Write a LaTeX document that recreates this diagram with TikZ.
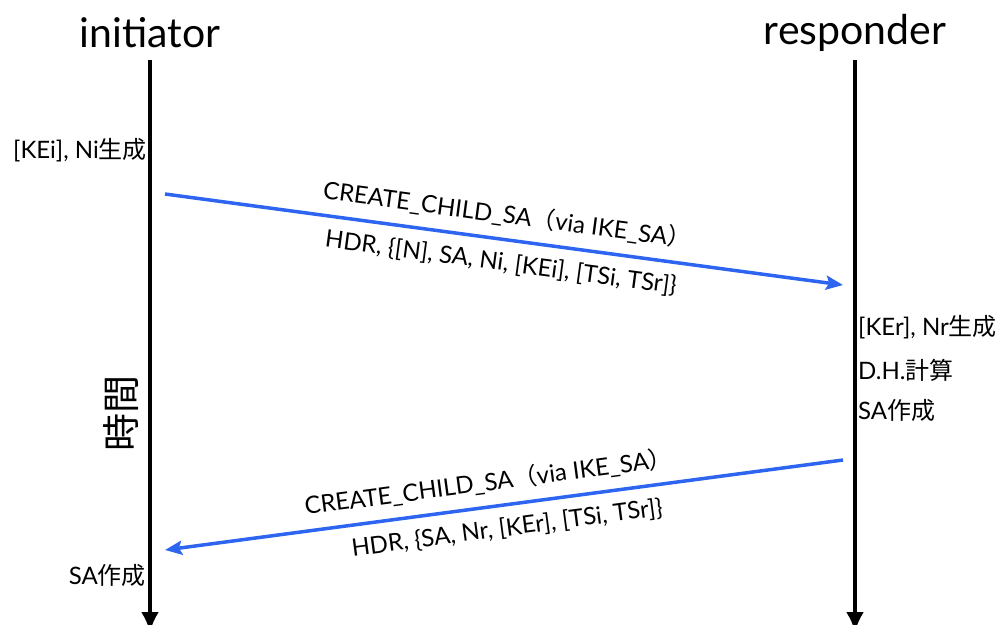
\documentclass[tikz,border=0pt]{standalone}
\usepackage{fontspec}
\setmainfont{Lato}
\newfontfamily\jp{Noto Sans CJK JP}
\usetikzlibrary{arrows.meta,positioning,calc}

\begin{document}
\begin{tikzpicture}[
    x=1pt, y=-1pt,
    party/.style={font=\fontsize{41}{48}\selectfont, inner sep=0pt},
    note/.style={font=\fontsize{24}{28}\selectfont, inner sep=0pt},
    msglabel/.style={font=\fontsize{24}{28}\selectfont, text=black, sloped, inner sep=0pt},
    lifeline/.style={draw, line width=3.5pt, -{Latex[length=20pt,width=18pt]}},
    msg/.style={draw, line width=3.5pt, color=msgblue, -{Stealth[length=17pt,width=14pt,inset=3pt]}}
]
    \definecolor{msgblue}{RGB}{45,100,240}
    \useasboundingbox (0,0) rectangle (1003,624);

    % Nodes
    \node[party] (init) at (150,33) {initiator};
    \node[party] (resp) at (855,33) {responder};
    \coordinate (itop) at (150,60);
    \coordinate (ibot) at (150,632);
    \coordinate (rtop) at (855,60);
    \coordinate (rbot) at (855,632);

    \node[note, anchor=east] (kei) at (147,150) {[KEi], Ni{\jp 生成}};
    \node[note, anchor=west] (ker) at (858,327) {[KEr], Nr{\jp 生成}};
    \node[note, anchor=west] (dh) at (858,370) {D.H.{\jp 計算}};
    \node[note, anchor=west] (rsa) at (858,410) {SA{\jp 作成}};
    \node[note, anchor=east] (isa) at (146,575) {SA{\jp 作成}};
    \node[font=\jp\fontsize{38}{44}\selectfont, rotate=90, inner sep=0pt] (time) at (121,413) {時間};

    \coordinate (req1) at (165,194);
    \coordinate (req2) at (843,285);
    \coordinate (res1) at (843,460);
    \coordinate (res2) at (165,550);

    % Arrows
    \path [lifeline] (itop) -- (ibot);
    \path [lifeline] (rtop) -- (rbot);
    \path [msg] (req1) -- (req2)
        node[msglabel, midway, above=11pt] {CREATE\_CHILD\_SA{\jp （}via IKE\_SA{\jp ）}}
        node[msglabel, midway, below=11pt] {HDR, \{[N], SA, Ni, [KEi], [TSi, TSr]\}};
    \path [msg] (res1) -- (res2)
        node[msglabel, pos=0.518, above=11pt] {CREATE\_CHILD\_SA{\jp （}via IKE\_SA{\jp ）}}
        node[msglabel, midway, below=11pt] {HDR, \{SA, Nr, [KEr], [TSi, TSr]\}};
\end{tikzpicture}
\end{document}
